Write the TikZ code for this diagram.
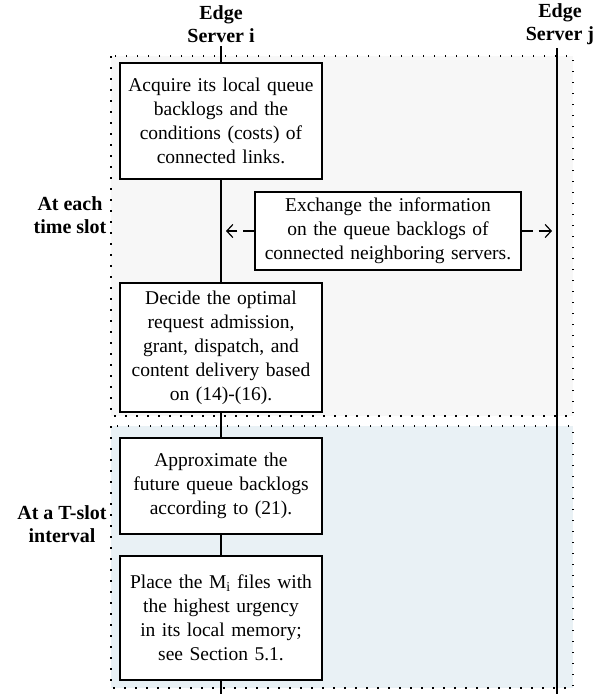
\documentclass[tikz,border=0pt]{standalone}
\usepackage{fontspec}
\setmainfont{Liberation Serif}
\usetikzlibrary{arrows.meta}
\definecolor{slotgray}{HTML}{F7F7F7}
\definecolor{tslotblue}{HTML}{E9F1F5}
\tikzset{
    stepbox/.style={draw, line width=1.3pt, fill=white, text width=198pt, align=center, inner xsep=2pt, font=\fontsize{19.5}{24}\selectfont},
    lane/.style={align=center, font=\bfseries\fontsize{20}{23}\selectfont},
    phase/.style={line width=1.5pt, dash pattern=on 1.5pt off 9.5pt},
    life/.style={line width=2pt},
    xchg/.style={line width=1.2pt, dash pattern=on 11pt off 6pt, -{Straight Barb[length=6pt,width=13pt]}}
}
\begin{document}
\begin{tikzpicture}[x=1pt,y=-1pt]
        \useasboundingbox (0,0) rectangle (603,694);
        \fill[slotgray] (111,56) rectangle (573,416);
        \fill[tslotblue] (111,426) rectangle (573,688);
        \draw[phase] (111,56) rectangle (573,416);
        \draw[phase] (111,426) rectangle (573,688);

        \node[lane] (srvi) at (221,24) {Edge\\Server i};
        \node[lane] (srvj) at (560,24) {Edge\\Server j};
        \node[lane] (each) at (70,215) {At each\\time slot};
        \node[lane] (tslot) at (62,524) {At a T-slot\\interval};

        \node[stepbox, minimum height=116pt] (acq) at (221,121) {Acquire its local queue\\backlogs and the\\conditions (costs) of\\connected links.};
        \node[stepbox, text width=262pt, minimum height=78pt] (exch) at (388,231) {Exchange the information\\on the queue backlogs of\\connected neighboring servers.};
        \node[stepbox, minimum height=129pt] (dec) at (221,347.5) {Decide the optimal\\request admission,\\grant, dispatch, and\\content delivery based\\on (14)-(16).};
        \node[stepbox, minimum height=96pt] (apx) at (221,486) {Approximate the\\future queue backlogs\\according to (21).};
        \node[stepbox, minimum height=124pt] (plc) at (221,618) {Place the M\textsubscript{i} files with\\the highest urgency\\in its local memory;\\see Section 5.1.};

        \coordinate (endi) at (221,694);
        \coordinate (endj) at (557,694);
        \coordinate (tipi) at (226,0);
        \coordinate (tipj) at (552,0);

        \draw[life] (srvi.south) -- (acq.north);
        \draw[life] (acq.south) -- (dec.north);
        \draw[life] (dec.south) -- (apx.north);
        \draw[life] (apx.south) -- (plc.north);
        \draw[life] (plc.south) -- (endi);
        \draw[life] (endj |- srvj.south) -- (endj);

        \draw[xchg] (exch.west) -- (exch.west -| tipi);
        \draw[xchg] (exch.east) -- (exch.east -| tipj);
    \end{tikzpicture}
\end{document}
